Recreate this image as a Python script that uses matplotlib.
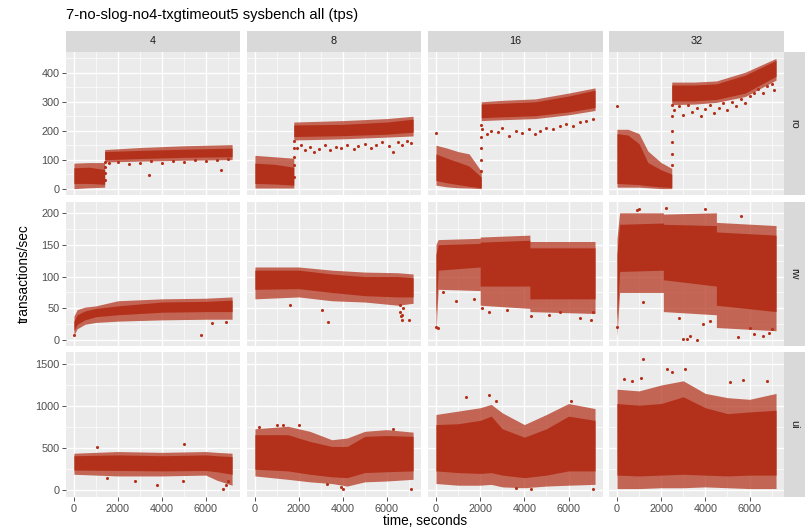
import numpy as np
import matplotlib.pyplot as plt

plt.rcParams['font.family'] = ['Liberation Sans', 'DejaVu Sans']

# ---------------------------------------------------------------------
# Data (tps clouds summarised per time knot)
#   core = dense part of the cloud, spread = sparse envelope
# ---------------------------------------------------------------------
threads = ['4', '8', '16', '32']
workloads = ['ro', 'rw', 'ui']

# ---- ro ----
ro4_t = [0, 700, 1400, 1400, 3000, 5000, 7200]
ro4_core_lo = [18, 18, 15, 100, 104, 108, 110]
ro4_core_hi = [72, 74, 66, 128, 132, 136, 140]
ro4_spread_lo = [0, 3, 5, 92, 95, 98, 100]
ro4_spread_hi = [88, 90, 90, 135, 142, 148, 152]
ro4_pts_t = [1400, 1400, 1400, 1400, 1600, 2000, 2500, 3000, 3400, 3500, 4000, 4500,
             5000, 5500, 6000, 6500, 6680, 7000]
ro4_pts_v = [30, 55, 75, 92, 88, 92, 85, 90, 46, 95, 88, 96, 92, 98, 95, 100, 63, 102]

ro8_t = [0, 900, 1770, 1770, 4000, 6000, 7200]
ro8_core_lo = [18, 16, 12, 180, 183, 188, 195]
ro8_core_hi = [88, 84, 74, 220, 222, 230, 240]
ro8_spread_lo = [2, 2, 2, 168, 172, 178, 182]
ro8_spread_hi = [115, 110, 105, 230, 235, 242, 250]
ro8_pts_t = [1780, 1780, 1780, 1780, 1780, 1900, 2100, 2300, 2500, 2700, 2900, 3200, 3400,
             3700, 3900, 4200, 4500, 4700, 5000, 5300, 5500, 5800, 6100, 6300, 6500,
             6700, 6900, 7100]
ro8_pts_v = [40, 80, 110, 140, 165, 140, 150, 135, 145, 128, 138, 150, 132, 145, 140,
             152, 138, 148, 155, 142, 150, 160, 148, 128, 160, 150, 165, 158]

ro16_t = [0, 500, 1000, 1500, 2050, 2050, 3000, 4500, 6000, 7200]
ro16_core_lo = [28, 20, 14, 8, 3, 245, 248, 252, 265, 280]
ro16_core_hi = [120, 105, 92, 78, 40, 292, 295, 300, 320, 340]
ro16_spread_lo = [12, 6, 3, 2, 0, 235, 238, 242, 255, 270]
ro16_spread_hi = [150, 140, 128, 120, 60, 300, 305, 310, 330, 348]
ro16_pts_t = [0, 2060, 2060, 2060, 2060, 2060, 2100, 2300, 2500, 2800, 3000, 3300, 3600,
              3900, 4200, 4500, 4700, 5000, 5300, 5600, 5900, 6200, 6500, 6800, 7100]
ro16_pts_v = [192, 60, 100, 140, 180, 220, 205, 190, 200, 195, 210, 182, 200, 192, 205,
              188, 198, 210, 205, 215, 225, 218, 230, 235, 240]

ro32_t = [0, 500, 1000, 1400, 2000, 2480, 2480, 3500, 4500, 5800, 7200]
ro32_core_lo = [18, 16, 14, 10, 6, 4, 303, 303, 308, 330, 388]
ro32_core_hi = [190, 185, 155, 90, 65, 50, 358, 358, 362, 392, 443]
ro32_spread_lo = [5, 5, 5, 3, 0, 0, 290, 292, 298, 318, 375]
ro32_spread_hi = [205, 205, 190, 130, 90, 70, 368, 368, 372, 402, 450]
ro32_pts_t = [0, 2500, 2500, 2500, 2500, 2500, 2500, 2600, 2800, 3000, 3200, 3400, 3600,
              3800, 4000, 4200, 4400, 4600, 4800, 5000, 5200, 5400, 5600, 5800, 6000,
              6200, 6400, 6600, 6800, 7000, 7100]
ro32_pts_v = [284, 80, 120, 160, 200, 250, 290, 270, 285, 255, 290, 265, 280, 250, 275,
              290, 260, 280, 295, 270, 300, 285, 310, 295, 320, 330, 345, 330, 355, 360, 340]

# ---- rw ----
rw4_t = [0, 150, 500, 1000, 2000, 4000, 6000, 7200]
rw4_core_lo = [15, 25, 32, 37, 40, 44, 45, 45]
rw4_core_hi = [30, 40, 46, 50, 54, 60, 61, 63]
rw4_spread_lo = [8, 18, 25, 28, 30, 32, 33, 33]
rw4_spread_hi = [38, 48, 52, 54, 62, 65, 66, 68]
rw4_pts_t = [0, 5800, 6300, 6900]
rw4_pts_v = [8, 9, 27, 29]

rw8_t = [0, 2000, 3500, 5000, 6500, 7200]
rw8_core_lo = [80, 81, 75, 70, 68, 68]
rw8_core_hi = [110, 110, 104, 100, 100, 98]
rw8_spread_lo = [65, 68, 62, 60, 55, 58]
rw8_spread_hi = [115, 115, 110, 107, 106, 104]
rw8_pts_t = [1618, 3054, 3330, 6600, 6620, 6650, 6680, 6700, 6720, 7000]
rw8_pts_v = [55, 47, 29, 55, 45, 38, 32, 40, 50, 32]

rw16_t = [0, 100, 2000, 2000, 4250, 4250, 7200]
rw16_core_lo = [40, 110, 115, 85, 85, 65, 65]
rw16_core_hi = [135, 150, 152, 154, 157, 145, 145]
rw16_spread_lo = [12, 80, 78, 55, 50, 45, 42]
rw16_spread_hi = [150, 158, 160, 162, 165, 155, 155]
rw16_pts_t = [0, 100, 300, 900, 1700, 2100, 2400, 3200, 4300, 5100, 5600, 6500, 7000, 7100]
rw16_pts_v = [21, 20, 75, 62, 65, 50, 45, 48, 38, 40, 44, 35, 32, 45]

rw32_t = [0, 120, 2100, 2100, 4500, 4500, 7200]
rw32_core_lo = [30, 108, 110, 95, 85, 55, 45]
rw32_core_hi = [135, 182, 184, 182, 180, 170, 165]
rw32_spread_lo = [5, 75, 75, 45, 40, 20, 15]
rw32_spread_hi = [160, 200, 200, 198, 200, 185, 180]
rw32_pts_t = [0, 900, 1200, 2800, 3000, 3150, 3300, 3600, 3900, 4200, 5500, 6000, 6200,
              6600, 6900, 7000, 1000, 2200, 4000, 5600]
rw32_pts_v = [21, 205, 60, 35, 2, 2, 7, 1, 25, 30, 5, 20, 10, 6, 12, 18, 206, 207, 206, 195]

# ---- ui ----
ui4_t = [0, 2000, 4000, 6000, 6500, 7200]
ui4_core_lo = [240, 235, 230, 235, 220, 190]
ui4_core_hi = [410, 420, 410, 420, 410, 400]
ui4_spread_lo = [190, 170, 170, 180, 120, 60]
ui4_spread_hi = [440, 460, 450, 460, 450, 440]
ui4_pts_t = [1050, 1500, 2800, 3780, 4950, 5000, 6800, 6900, 7000]
ui4_pts_v = [510, 140, 110, 59, 110, 546, 20, 60, 110]

ui8_t = [0, 1500, 2500, 3500, 4200, 5000, 6000, 7200]
ui8_core_lo = [250, 230, 190, 160, 150, 210, 220, 230]
ui8_core_hi = [660, 660, 580, 520, 520, 640, 650, 640]
ui8_spread_lo = [170, 130, 100, 80, 50, 100, 110, 130]
ui8_spread_hi = [730, 760, 700, 600, 620, 700, 720, 690]
ui8_pts_t = [200, 1000, 1300, 2000, 3300, 3900, 4000, 6300, 7100]
ui8_pts_v = [750, 780, 770, 780, 80, 40, 20, 730, 10]

ui16_t = [0, 1000, 2000, 2500, 3000, 4000, 5000, 6000, 7200]
ui16_core_lo = [230, 210, 200, 210, 180, 150, 180, 230, 230]
ui16_core_hi = [780, 790, 830, 880, 730, 630, 730, 880, 830]
ui16_spread_lo = [80, 60, 60, 70, 40, 30, 50, 60, 70]
ui16_spread_hi = [900, 940, 980, 1020, 920, 780, 900, 1030, 970]
ui16_pts_t = [1360, 2400, 2700, 6100, 3600, 4300, 7100]
ui16_pts_v = [1104, 1130, 1060, 1060, 30, 20, 20]

ui32_t = [0, 1000, 2000, 3000, 4000, 5000, 6000, 7200]
ui32_core_lo = [180, 170, 180, 190, 180, 170, 180, 180]
ui32_core_hi = [1030, 1010, 1030, 1110, 980, 910, 930, 950]
ui32_spread_lo = [20, 20, 30, 30, 40, 30, 20, 20]
ui32_spread_hi = [1200, 1180, 1250, 1300, 1150, 1100, 1080, 1150]
ui32_pts_t = [1160, 2250, 3100, 2500, 1100, 700, 300, 5100, 5700, 6800]
ui32_pts_v = [1559, 1440, 1445, 1400, 1330, 1300, 1320, 1290, 1310, 1300]

# table built from the arrays above
panels = {}
for w in workloads:
    for th in threads:
        k = w + th
        g = globals()
        panels[(w, th)] = (g[k + '_t'], g[k + '_core_lo'], g[k + '_core_hi'],
                           g[k + '_spread_lo'], g[k + '_spread_hi'],
                           g[k + '_pts_t'], g[k + '_pts_v'])

# ---------------------------------------------------------------------
# Layout (pixels of an 808x530 canvas)
# ---------------------------------------------------------------------
W, H = 808, 530
fig = plt.figure(figsize=(W / 100, H / 100), dpi=100)
fig.patch.set_facecolor('white')

cols = [(66, 240), (247, 421), (428, 603), (609, 784)]
rows = [(52, 195), (202, 346), (352, 497)]
strip_top = (31, 52)
strip_right = (784, 805)

red = '#B3311A'
panel_bg = '#EBEBEB'
strip_bg = '#D9D9D9'

ylims = {'ro': (-22, 472), 'rw': (-9, 217), 'ui': (-80, 1642)}
yticks = {'ro': [0, 100, 200, 300, 400], 'rw': [0, 50, 100, 150, 200],
          'ui': [0, 500, 1000, 1500]}
yminor = {'ro': [50, 150, 250, 350, 450], 'rw': [25, 75, 125, 175],
          'ui': [250, 750, 1250]}
xlim = (-360, 7560)


def rect(x0, x1, y0, y1):
    return [x0 / W, 1 - y1 / H, (x1 - x0) / W, (y1 - y0) / H]


for i, w in enumerate(workloads):
    for j, th in enumerate(threads):
        ax = fig.add_axes(rect(cols[j][0], cols[j][1], rows[i][0], rows[i][1]))
        ax.set_facecolor(panel_bg)
        for s in ax.spines.values():
            s.set_visible(False)
        t, clo, chi, slo, shi, pt, pv = panels[(w, th)]
        ax.fill_between(t, slo, shi, color=red, alpha=0.72, lw=0, zorder=2)
        ax.fill_between(t, clo, chi, color=red, lw=0, zorder=3)
        ax.scatter(pt, pv, s=5, color=red, lw=0, zorder=4)
        ax.set_xlim(xlim)
        ax.set_ylim(ylims[w])
        ax.set_xticks([0, 2000, 4000, 6000])
        ax.set_xticks([1000, 3000, 5000, 7000], minor=True)
        ax.set_yticks(yticks[w])
        ax.set_yticks(yminor[w], minor=True)
        ax.grid(which='major', color='white', lw=0.95, zorder=1)
        ax.grid(which='minor', color='white', lw=0.45, zorder=1)
        ax.set_axisbelow(True)
        ax.tick_params(which='minor', length=0)
        ax.tick_params(which='major', length=3.2, width=0.6, color='#333333',
                       labelsize=7.8, labelcolor='#4D4D4D', pad=1.5)
        if j > 0:
            ax.tick_params(axis='y', which='major', length=0, labelleft=False)
        if i < len(workloads) - 1:
            ax.tick_params(axis='x', which='major', length=0, labelbottom=False)

        if i == 0:
            sax = fig.add_axes(rect(cols[j][0], cols[j][1], strip_top[0], strip_top[1]))
            sax.set_facecolor(strip_bg)
            sax.set_xticks([])
            sax.set_yticks([])
            for s in sax.spines.values():
                s.set_visible(False)
            sax.text(0.5, 0.5, th, ha='center', va='center', fontsize=7.8,
                     color='#1A1A1A', transform=sax.transAxes)
        if j == len(threads) - 1:
            sax = fig.add_axes(rect(strip_right[0], strip_right[1], rows[i][0], rows[i][1]))
            sax.set_facecolor(strip_bg)
            sax.set_xticks([])
            sax.set_yticks([])
            for s in sax.spines.values():
                s.set_visible(False)
            sax.text(0.5, 0.5, w, ha='center', va='center', fontsize=7.8,
                     rotation=-90, color='#1A1A1A', transform=sax.transAxes)

fig.text(66 / W, 1 - 15 / H, '7-no-slog-no4-txgtimeout5 sysbench all (tps)',
         ha='left', va='center', fontsize=10.6, color='black')
fig.text(425 / W, 1 - 521 / H, 'time, seconds', ha='center', va='center',
         fontsize=9.8, color='black')
fig.text(24 / W, 1 - 274 / H, 'transactions/sec', ha='center', va='center',
         rotation=90, fontsize=9.8, color='black')

fig.savefig('out.png', dpi=100)
